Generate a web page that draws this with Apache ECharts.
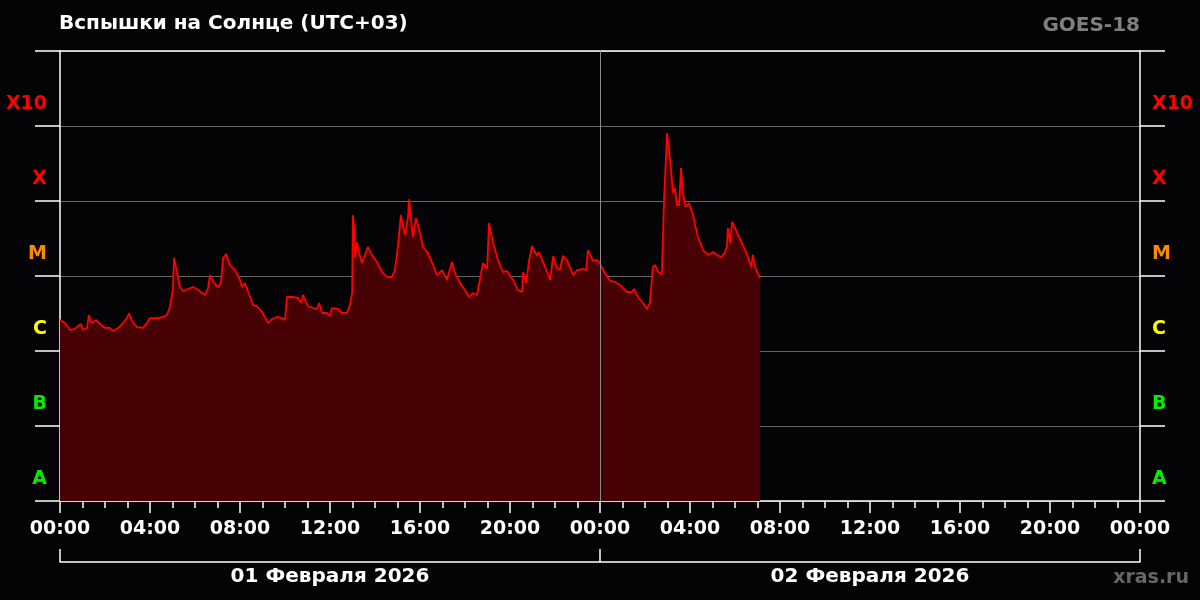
<!DOCTYPE html>
<html>
<head>
<meta charset="utf-8">
<script src="https://cdn.jsdelivr.net/npm/echarts@6/dist/echarts.min.js"></script>
<style>
html,body{margin:0;padding:0;background:#040406;}
#chart{width:1200px;height:600px;}
</style>
</head>
<body>
<div id="chart"></div>
<script>
// Time in minutes from 01 Feb 2026 00:00 (UTC+03)
const timesMin = [0,13,27,40,48,56,61,72,77,85,96,107,120,133,141,155,168,179,184,192,205,221,232,240,259,275,285,293,301,304,312,320,328,341,355,365,379,387,395,400,411,421,429,435,443,453,467,480,485,493,507,515,525,539,555,565,579,592,600,605,621,635,643,648,661,675,685,691,699,712,720,725,741,752,765,773,779,781,784,787,792,797,805,811,821,832,845,859,872,885,893,901,909,920,928,931,941,949,960,968,981,995,1005,1019,1032,1045,1053,1067,1080,1091,1101,1112,1117,1128,1139,1144,1155,1168,1181,1192,1208,1221,1232,1235,1243,1251,1259,1272,1277,1288,1299,1307,1315,1325,1333,1341,1352,1368,1379,1395,1403,1408,1421,1432,1440,1453,1467,1480,1493,1512,1525,1531,1541,1555,1565,1573,1581,1587,1595,1605,1611,1619,1627,1635,1640,1645,1651,1656,1661,1669,1677,1688,1701,1715,1728,1741,1752,1763,1773,1779,1781,1787,1792,1805,1821,1835,1843,1848,1853,1867];
// X-ray flux, W/m^2
const fluxValues = [2.6e-6,2.36e-6,1.91e-6,1.97e-6,2.15e-6,2.29e-6,1.91e-6,2.03e-6,3.02e-6,2.36e-6,2.59e-6,2.29e-6,2.03e-6,2.03e-6,1.85e-6,2.03e-6,2.36e-6,2.75e-6,3.21e-6,2.51e-6,2.09e-6,2.03e-6,2.36e-6,2.75e-6,2.75e-6,2.84e-6,3.02e-6,3.86e-6,6.5e-6,1.74e-5,1.13e-5,7.13e-6,6.31e-6,6.71e-6,7.13e-6,6.71e-6,5.93e-6,5.58e-6,6.92e-6,1.03e-5,8.07e-6,7.13e-6,8.07e-6,1.74e-5,1.97e-5,1.4e-5,1.2e-5,8.85e-6,7.13e-6,8.07e-6,5.25e-6,4.1e-6,3.98e-6,3.31e-6,2.36e-6,2.67e-6,2.84e-6,2.75e-6,2.59e-6,5.25e-6,5.25e-6,5.09e-6,4.37e-6,5.58e-6,3.98e-6,3.74e-6,3.63e-6,4.37e-6,3.21e-6,3.21e-6,2.93e-6,3.74e-6,3.63e-6,3.21e-6,3.21e-6,4.1e-6,5.93e-6,6.5e-5,4.5e-5,1.74e-5,2.84e-5,2.09e-5,1.49e-5,1.79e-5,2.44e-5,1.91e-5,1.54e-5,1.13e-5,9.7e-6,9.7e-6,1.2e-5,2.44e-5,6.5e-5,3.52e-5,6.12e-5,1.05e-4,3.31e-5,5.93e-5,3.74e-5,2.44e-5,2.03e-5,1.4e-5,1.03e-5,1.2e-5,8.85e-6,1.54e-5,1.1e-5,8.07e-6,6.5e-6,5.25e-6,5.93e-6,5.58e-6,5.58e-6,1.49e-5,1.24e-5,5.09e-5,2.75e-5,1.63e-5,1.13e-5,1.17e-5,8.85e-6,6.5e-6,6.12e-6,1.13e-5,8.07e-6,1.63e-5,2.51e-5,1.85e-5,2.09e-5,1.54e-5,1.13e-5,8.85e-6,1.85e-5,1.28e-5,1.2e-5,1.85e-5,1.63e-5,1.03e-5,1.2e-5,1.24e-5,1.2e-5,2.22e-5,1.6e-5,1.63e-5,1.45e-5,1.1e-5,8.58e-6,8.32e-6,7.59e-6,6.12e-6,6.12e-6,6.71e-6,5.25e-6,4.37e-6,3.63e-6,4.37e-6,1.32e-5,1.4e-5,1.13e-5,1.06e-5,1.13e-4,8.07e-4,3.52e-4,1.28e-4,1.49e-4,8.85e-5,8.85e-5,2.75e-4,1.28e-4,8.32e-5,9.4e-5,6.5e-5,3.31e-5,2.22e-5,1.91e-5,2.09e-5,1.91e-5,1.79e-5,2.03e-5,2.59e-5,4.37e-5,2.75e-5,5.25e-5,3.86e-5,2.59e-5,1.79e-5,1.32e-5,1.91e-5,1.32e-5,9.4e-6];

const classLabels = ['A','B','C','M','X','X10'];
const classColors = ['#00ee00','#00ee00','#ffff00','#ff8800','#ff0000','#ff0000'];
// label anchor inside each class decade (fraction of a decade above its lower bound)
const classLabelPos = [0.29,0.29,0.29,0.29,0.29,0.29];
const dateLabels = ['01 Февраля 2026','02 Февраля 2026'];
const midnightMin = 1440;

const FONT = '"DejaVu Sans", Verdana, sans-serif';
const seriesData = timesMin.map((t,i)=>[t, fluxValues[i]]);
const labelValues = classLabels.map((c,i)=>Math.pow(10, i - 8 + classLabelPos[i]));

function classIdx(v){ return Math.floor(Math.log10(v) + 1e-6) + 8; }

function yAxisCfg(pos, margin, split){
  return {
    type:'log', logBase:10, min:1e-8, max:1e-2, position:pos,
    axisLine:{show:true, onZero:false, lineStyle:{color:'#ffffff', width:1.5}},
    axisTick:{show:true, inside:false, length:25, lineStyle:{color:'#ffffff', width:1.5}},
    axisLabel:{
      customValues:labelValues,
      formatter:(v)=>{ const i=classIdx(v); return classLabels[i]||''; },
      color:(v)=>{ const i=classIdx(v); return classColors[i]||'#fff'; },
      fontFamily:FONT, fontWeight:'bold', fontSize:19, margin:margin
    },
    splitLine:{show:split, lineStyle:{color:'#666666', width:1}}
  };
}

const chart = echarts.init(document.getElementById('chart'), null, {renderer:'canvas'});
chart.setOption({
  backgroundColor:'#040406',
  animation:false,
  title:[
    {text:'Вспышки на Солнце (UTC+03)', left:59, top:14, padding:0,
     textStyle:{color:'#ffffff', fontSize:20, fontWeight:'bold', fontFamily:FONT}},
    {text:'GOES-18', right:60, top:16, padding:0,
     textStyle:{color:'#808080', fontSize:20, fontWeight:'bold', fontFamily:FONT}},
    {text:'xras.ru', right:11, top:569, padding:0,
     textStyle:{color:'#666666', fontSize:19, fontWeight:'bold', fontFamily:FONT}}
  ],
  grid:{left:60, right:60, top:51, bottom:99, containLabel:false},
  xAxis:[
    {
      type:'value', min:0, max:2880, interval:240, position:'bottom',
      axisLine:{show:true, onZero:false, lineStyle:{color:'#ffffff', width:1.5}},
      axisTick:{show:true, length:12, lineStyle:{color:'#ffffff', width:1.5}},
      minorTick:{show:true, splitNumber:4, length:7, lineStyle:{color:'#ffffff', width:1.5}},
      axisLabel:{
        formatter:(v)=>{ const h=Math.round(v/60)%24; return (h<10?'0':'')+h+':00'; },
        color:'#ffffff', fontFamily:FONT, fontWeight:'bold', fontSize:19, margin:19,
        showMinLabel:true, showMaxLabel:true
      },
      splitLine:{show:false}
    },
    {
      type:'value', min:0, max:2880, position:'top',
      axisLine:{show:true, onZero:false, lineStyle:{color:'#ffffff', width:1.5}},
      axisTick:{show:false}, axisLabel:{show:false}, splitLine:{show:false}
    },
    {
      type:'category', data:dateLabels, position:'bottom', offset:61, boundaryGap:true,
      axisLine:{show:true, onZero:false, lineStyle:{color:'#ffffff', width:1.5}},
      axisTick:{show:true, inside:true, length:13, interval:0, alignWithLabel:false, lineStyle:{color:'#ffffff', width:1.5}},
      axisLabel:{color:'#ffffff', fontFamily:FONT, fontWeight:'bold', fontSize:20, margin:5, interval:0},
      splitLine:{show:false}
    }
  ],
  yAxis:[ yAxisCfg('left', 13, true), yAxisCfg('right', 12, false) ],
  series:[{
    type:'line', xAxisIndex:0, yAxisIndex:0,
    data:seriesData, showSymbol:false, symbol:'none',
    lineStyle:{color:'#ff0000', width:1.8},
    areaStyle:{color:'#470004', origin:'start', opacity:1},
    markLine:{
      silent:true, symbol:'none', label:{show:false},
      lineStyle:{color:'#8a8a8a', width:1, type:'solid'},
      data:[{xAxis:midnightMin}]
    },
    z:2
  }]
});
</script>
</body>
</html>
